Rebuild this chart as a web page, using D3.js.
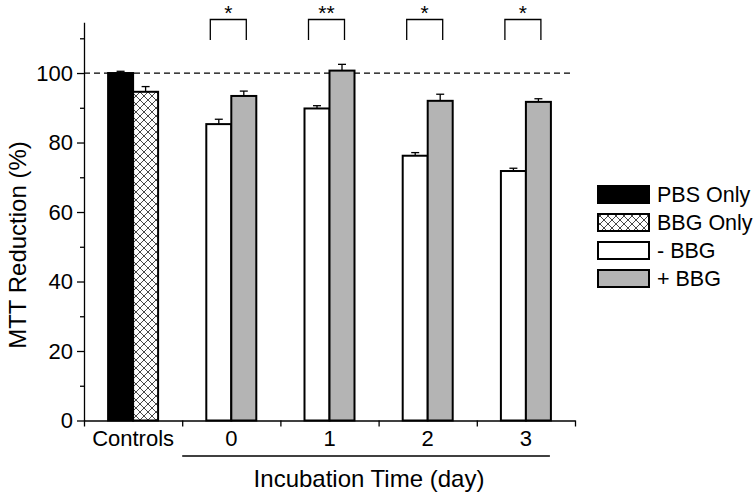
<!DOCTYPE html>
<html>
<head>
<meta charset="utf-8">
<script src="https://cdn.jsdelivr.net/npm/d3@7"></script>
<style>
  html, body { margin: 0; padding: 0; background: #fff; }
  svg { display: block; font-family: "Liberation Sans", Arial, sans-serif; }
</style>
</head>
<body>
<svg id="chart" width="756" height="494"></svg>
<script>
// ---- data ----
const categories = ["Controls", "0", "1", "2", "3"];
const controlLabels = ["PBS Only", "BBG Only"];
const controlValues = [100, 94.6];
const controlErrors = [0.5, 1.5];
const days = ["0", "1", "2", "3"];
const minusBBG = [85.3, 89.8, 76.2, 71.8];
const minusBBGErr = [1.4, 0.8, 0.9, 0.8];
const plusBBG = [93.4, 100.7, 92.0, 91.7];
const plusBBGErr = [1.4, 1.8, 1.9, 0.9];
const significance = ["*", "**", "*", "*"];
const yMajorTicks = [0, 20, 40, 60, 80, 100];
const yMinorTicks = [10, 30, 50, 70, 90, 110];
const legendLabels = ["PBS Only", "BBG Only", "- BBG", "+ BBG"];
const yTitle = "MTT Reduction (%)";
const xTitle = "Incubation Time (day)";
const referenceLine = 100;

(function draw() {
  const svg = d3.select("#chart");
  const pL = 84, pR = 575, pB = 420.5, pT = 22.3;
  const y = d3.scaleLinear().domain([0, 114.6]).range([pB, pT]);
  const x = d3.scaleBand().domain(categories).range([pL, pR]).padding(0);
  const sub = d3.scaleBand().domain([0, 1]).range([-25, 25]).padding(0);
  const edges = d3.scaleLinear().domain([0, categories.length]).range([pL, pR]);

  const grey = "#b4b4b4";
  const defs = svg.append("defs");
  const pat = defs.append("pattern").attr("id", "hatch")
    .attr("patternUnits", "userSpaceOnUse").attr("width", 8).attr("height", 8);
  pat.append("rect").attr("width", 8).attr("height", 8).attr("fill", "#fff");
  pat.append("path").attr("d", "M0,0 L8,8 M8,0 L0,8")
    .attr("stroke", "#333").attr("stroke-width", 0.9).attr("fill", "none");

  const fills = ["#000", "url(#hatch)", "#fff", grey];

  const bars = [];
  controlValues.forEach((v, i) => bars.push({cat: "Controls", k: i, v, e: controlErrors[i], fill: fills[i]}));
  days.forEach((d, i) => {
    bars.push({cat: d, k: 0, v: minusBBG[i], e: minusBBGErr[i], fill: fills[2]});
    bars.push({cat: d, k: 1, v: plusBBG[i], e: plusBBGErr[i], fill: fills[3]});
  });
  const cx = c => x(c) + x.bandwidth() / 2;

  svg.append("line")
    .attr("x1", pL).attr("x2", pR - 2)
    .attr("y1", y(referenceLine)).attr("y2", y(referenceLine))
    .attr("stroke", "#000").attr("stroke-width", 1.3).attr("stroke-dasharray", "6,4");

  const eg = svg.append("g");
  bars.forEach(b => {
    const bx = cx(b.cat) + sub(b.k) + sub.bandwidth() / 2;
    eg.append("line").attr("x1", bx).attr("x2", bx).attr("y1", y(b.v)).attr("y2", y(b.v + b.e))
      .attr("stroke", "#000").attr("stroke-width", 1.3);
    eg.append("line").attr("x1", bx - 4).attr("x2", bx + 4).attr("y1", y(b.v + b.e)).attr("y2", y(b.v + b.e))
      .attr("stroke", "#000").attr("stroke-width", 1.3);
  });

  svg.append("g").selectAll("rect").data(bars).join("rect")
    .attr("x", d => cx(d.cat) + sub(d.k))
    .attr("width", sub.bandwidth())
    .attr("y", d => y(d.v))
    .attr("height", d => y(0) - y(d.v))
    .attr("fill", d => d.fill)
    .attr("stroke", "#000").attr("stroke-width", 2);

  const yAxis = svg.append("g").attr("transform", `translate(${pL},0)`)
    .call(d3.axisLeft(y).tickValues(yMajorTicks).tickSize(7).tickSizeOuter(0).tickPadding(4));
  svg.append("g").attr("transform", `translate(${pL},0)`)
    .call(d3.axisLeft(y).tickValues(yMinorTicks).tickSize(4).tickSizeOuter(0).tickFormat(""))
    .select(".domain").remove();
  yAxis.selectAll("text").attr("font-size", 22).attr("font-family", "Liberation Sans, Arial, sans-serif").attr("fill", "#000");

  svg.append("g").attr("transform", `translate(0,${pB})`)
    .call(d3.axisBottom(edges).tickValues(d3.range(categories.length + 1)).tickSize(6).tickSizeOuter(0).tickFormat(""));
  svg.selectAll(".domain, .tick line").attr("stroke", "#000").attr("stroke-width", 1.3);

  svg.append("g").selectAll("text").data(categories).join("text")
    .attr("x", d => cx(d)).attr("y", 446)
    .attr("text-anchor", "middle").attr("font-size", 22).attr("fill", "#000")
    .text(d => d);

  svg.append("line").attr("x1", x(days[0])).attr("x2", cx(days[days.length - 1]) + 24)
    .attr("y1", 456).attr("y2", 456).attr("stroke", "#000").attr("stroke-width", 1.3);

  svg.append("text").attr("x", 369).attr("y", 487).attr("text-anchor", "middle")
    .attr("font-size", 24).attr("fill", "#000").text(xTitle);

  svg.append("text").attr("transform", `translate(26,245) rotate(-90)`).attr("text-anchor", "middle")
    .attr("font-size", 24).attr("fill", "#000").text(yTitle);

  const sg = svg.append("g");
  days.forEach((d, i) => {
    const x1 = cx(d) - 21, x2 = cx(d) + 15;
    sg.append("path").attr("d", `M${x1},40 V19.5 H${x2} V40`)
      .attr("fill", "none").attr("stroke", "#000").attr("stroke-width", 1.3);
    sg.append("text").attr("x", (x1 + x2) / 2).attr("y", 19.5).attr("text-anchor", "middle")
      .attr("font-size", 21).attr("fill", "#000").text(significance[i]);
  });

  const lg = svg.append("g");
  legendLabels.forEach((t, i) => {
    const ly = 186 + i * 28;
    lg.append("rect").attr("x", 598).attr("y", ly).attr("width", 51).attr("height", 17)
      .attr("fill", fills[i]).attr("stroke", "#000").attr("stroke-width", 2);
    lg.append("text").attr("x", 657).attr("y", ly + 16).attr("font-size", 21.5).attr("fill", "#000").text(t);
  });
})();
</script>
</body>
</html>
